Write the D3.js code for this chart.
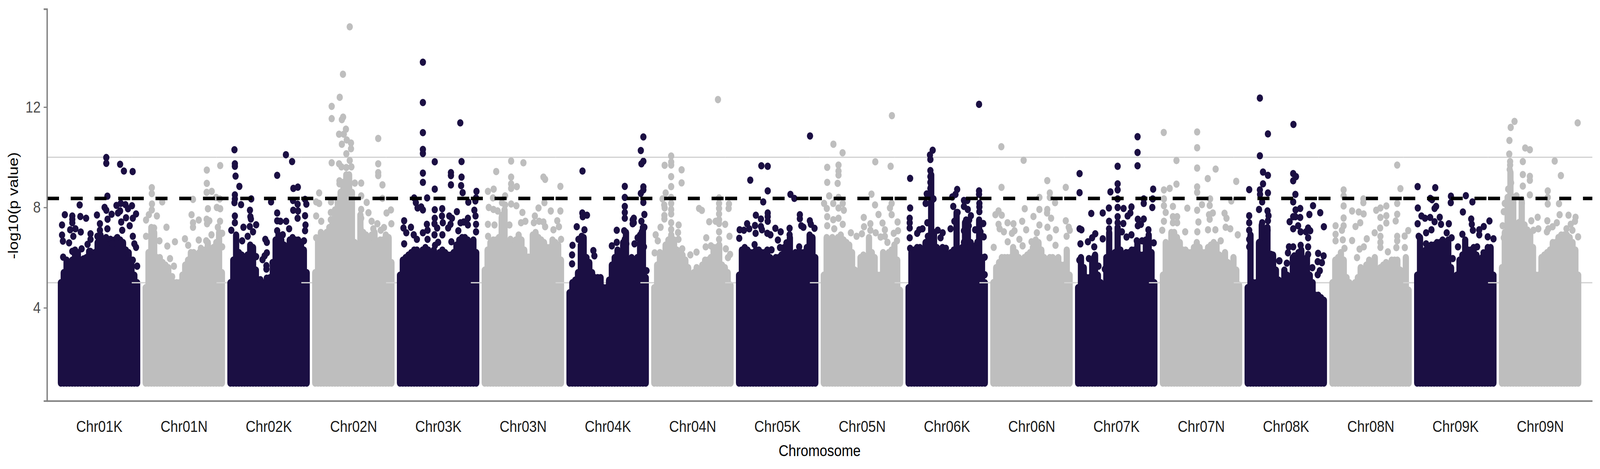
<!DOCTYPE html>
<html>
<head>
<meta charset="utf-8">
<script src="https://cdn.jsdelivr.net/npm/d3@7"></script>
<style>
  html, body { margin: 0; height: 100%; background: #fff; overflow: hidden; }
  text { font-family: "Liberation Sans", Arial, sans-serif; }
</style>
</head>
<body>
<div id="chart"></div>
<script>
const chromosomes = ["Chr01K","Chr01N","Chr02K","Chr02N","Chr03K","Chr03N","Chr04K","Chr04N","Chr05K","Chr05N","Chr06K","Chr06N","Chr07K","Chr07N","Chr08K","Chr08N","Chr09K","Chr09N"];
const yTicks = [4, 8, 12];
const referenceLines = [5, 10];
const significance = 8.36;
const minValue = 1;

// height of the dense mass, read at 28 even steps along each chromosome
const tops01K = [5.0,5.4,5.9,5.8,5.9,6.3,6.2,5.9,5.95,6.0,6.25,6.0,6.2,6.6,6.9,6.5,6.8,6.5,6.2,6.7,6.8,6.7,6.6,6.3,6.2,5.7,5.3,5.0];
const tops01N = [4.8,6.2,7.2,7.0,6.0,6.0,5.8,5.7,5.6,5.1,5.0,5.0,5.0,5.3,5.7,5.9,6.2,6.2,6.0,6.2,5.9,6.3,6.6,6.3,6.4,6.6,7.0,5.4];
const tops02K = [5.0,5.9,6.9,6.2,6.1,6.0,6.1,6.5,6.4,5.5,5.0,4.9,5.0,5.0,5.2,5.7,6.7,6.9,6.7,6.5,6.3,6.7,6.8,6.7,6.7,6.6,6.3,5.4];
const tops02N = [5.4,6.7,7.0,6.9,7.0,7.2,7.3,7.9,8.3,8.6,9.0,9.3,9.3,8.6,6.6,6.5,7.7,7.0,6.9,6.8,6.9,7.0,6.4,6.7,6.7,6.9,6.8,5.8];
const tops03K = [5.3,5.9,6.0,6.1,6.2,6.3,6.3,6.1,6.3,6.4,6.3,6.2,6.3,6.1,6.2,6.3,6.2,6.1,6.1,6.2,6.5,6.7,6.8,6.8,6.7,6.6,6.7,6.2];
const tops03N = [5.5,6.3,6.6,6.7,6.7,6.8,7.6,7.9,6.6,6.5,6.6,6.7,6.9,6.7,6.3,5.9,5.7,6.9,7.0,6.8,6.7,6.6,6.4,6.4,6.7,6.6,6.5,5.9];
const tops04K = [4.6,5.0,5.1,5.4,6.5,6.8,6.0,5.8,5.4,5.2,5.2,5.2,4.8,4.8,5.1,5.7,6.0,6.3,5.9,6.6,7.0,5.9,6.0,5.8,6.0,6.9,7.2,5.2];
const tops04N = [4.8,5.7,6.2,6.1,6.5,6.7,6.9,6.7,6.3,6.1,6.1,5.9,5.6,4.6,5.4,5.6,5.5,5.7,5.9,5.9,6.0,6.4,6.4,6.5,5.7,5.6,5.4,4.9];
const tops05K = [5.3,6.3,6.4,6.3,6.2,6.2,6.3,6.3,6.2,6.2,6.3,6.0,5.9,6.0,6.0,6.1,6.4,6.5,6.8,6.1,6.2,6.2,6.2,6.2,6.4,6.9,6.8,6.0];
const tops05N = [5.3,6.8,6.7,6.8,6.7,6.8,6.9,6.7,6.6,6.5,6.2,5.5,5.3,6.0,6.1,5.9,6.8,6.2,6.0,5.3,5.3,6.2,6.0,6.2,6.3,6.5,5.9,4.7];
const tops06K = [4.8,6.2,6.3,6.4,6.4,6.3,6.6,6.7,9.3,7.0,6.4,6.3,6.4,6.3,6.1,6.2,6.3,7.8,6.2,6.4,7.4,7.3,6.6,6.2,6.5,7.5,6.0,5.0];
const tops06N = [5.0,5.6,5.8,6.0,6.0,6.0,6.0,6.4,6.2,6.0,5.9,6.0,6.1,6.2,6.4,6.7,6.6,6.3,6.0,5.9,6.0,6.0,5.9,6.0,5.7,5.7,6.3,5.3];
const tops07K = [4.8,6.0,5.6,5.2,5.2,5.8,6.1,5.3,5.0,4.9,6.0,7.0,6.1,6.2,7.2,6.3,6.0,6.2,6.2,6.3,6.3,6.6,6.1,6.1,6.7,6.9,6.2,5.0];
const tops07N = [5.3,6.6,6.2,7.0,7.0,6.8,6.6,6.3,6.3,6.2,6.2,6.4,6.6,6.4,6.2,6.2,6.4,6.5,6.6,6.5,6.1,6.0,6.2,5.8,5.6,6.0,5.5,4.9];
const tops08K = [4.8,6.9,5.0,5.0,6.6,7.3,6.3,7.2,5.9,6.1,5.5,5.1,5.0,5.5,5.3,5.0,6.0,5.2,6.2,6.3,5.3,6.0,5.3,5.0,4.5,4.5,4.4,4.3];
const tops08N = [5.0,5.9,6.0,6.2,5.9,5.2,5.0,4.8,5.0,5.2,5.6,5.5,5.7,5.9,5.8,6.0,5.4,5.6,5.7,5.8,5.7,5.9,5.9,5.9,5.5,5.4,6.0,4.7];
const tops09K = [5.3,6.8,6.0,6.3,6.3,6.5,6.5,6.6,6.6,6.7,6.6,6.7,5.6,4.9,5.3,5.9,6.1,6.7,6.3,6.3,6.4,6.1,5.9,6.0,6.0,6.4,6.4,5.3];
const tops09N = [5.6,7.0,8.4,9.4,8.4,7.3,7.4,8.3,7.3,7.1,7.0,6.4,5.3,5.3,6.0,6.1,6.2,6.3,6.6,6.6,6.8,6.9,6.9,6.9,6.8,6.6,6.3,5.3];

// single points above the mass: [position along the genome, -log10(p)], 100 units per chromosome
const dots01K = [[58.4,9.99],[58.4,9.76],[74.7,9.72],[79.2,9.45],[89.5,9.43],[59.7,8.45],[27,8.1],[56.4,8],[58.4,7.89],[70.4,8.08],[75.5,8.16],[81,8.11],[88.7,8.07],[84,7.95],[93.5,7.74],[9.5,7.71],[18.3,7.66],[18.3,7.53],[27.8,7.64],[34.6,7.57],[47.4,7.7],[64.7,7.73],[59.9,7.53],[72.2,7.78],[74.7,7.86],[81.7,7.59],[89.7,7.57],[6.2,7.3],[18.3,7.39],[50.9,7.35],[76,7.42],[86,7.27],[6.2,6.9],[7.2,6.66],[28.3,7.02],[15.8,7.11],[22,7.15],[19.5,6.85],[14.5,6.59],[39.8,6.95],[39.8,6.73],[36.3,6.53],[29.3,6.35],[18.3,6.25],[47.9,6.85],[59.7,7.15],[63.4,6.73],[65.4,6.55],[71,6.79],[89.7,6.85],[91.5,6.55],[93.5,6.41],[7.5,6.02],[39.6,6.25],[83.5,6.2],[89.7,5.9],[94.8,5.66],[50.9,7.09],[77.2,7.09]];
const dots01N = [[112.1,8.79],[112.1,8.55],[124.4,8.22],[112.3,8.14],[112.1,7.9],[118.1,7.66],[108.6,7.71],[114.8,7.18],[129.4,7.21],[105.3,7.5],[105.3,6.85],[121.1,6.67],[139.4,6.63],[151.2,6.75],[130.4,6.46],[138.2,5.66],[133.6,5.96],[136.1,5.24],[160.7,8.32],[159,7.71],[167.5,7.5],[160.7,7.39],[160.7,7.21],[167.5,6.7],[155,6.49],[177,9.49],[177,8.96],[182.8,8.64],[176.8,8.6],[192.8,9.67],[188,8.4],[192.3,8.34],[188.8,8],[192.8,7.95],[178.3,7.95],[176.8,7.53],[180,7.47],[177.3,7.35],[192.6,7.45],[190,7.21],[182.5,6.91],[176.3,6.67],[170,6.37],[195.1,6.97],[195.1,6.43]];
const dots02K = [[209.6,10.3],[210.1,9.74],[210.1,9.64],[210.9,9.25],[215.4,8.84],[210.1,8.5],[210.1,8.34],[209.6,8.19],[217.4,8.11],[229.4,8.34],[210.1,7.66],[210.1,7.39],[227.9,7.89],[228.4,7.63],[229,7.54],[270.3,10.1],[277.6,9.83],[260,9.28],[279.1,8.76],[284.4,8.81],[278.6,8.28],[252.8,8.22],[292.9,8.32],[294.4,8.13],[284.1,8.13],[278.9,7.89],[284.6,7.86],[260,7.78],[260,7.47],[263.8,7.45],[270.6,7.45],[292.9,7.67],[284.1,7.57],[293.4,7.3],[292.9,7.07],[274.1,7.15],[235.2,7.31],[227.7,7.24],[220.2,7.21],[205.9,7.09],[260,7.07],[266.6,6.91],[225.2,6.85],[231.5,7.03],[246,6.73],[247.8,6.61],[218.7,6.67],[247.8,6.19],[245.2,6.07],[242.7,5.92],[247.3,5.68],[247.3,5.54],[235.2,6.04],[254.5,5.8],[240.2,5.12],[247.7,5.18],[291.6,6.67]];
const dots02N = [[345.6,15.2],[337.6,13.31],[333.8,12.39],[324.3,12.03],[324.3,11.54],[337.8,11.6],[336.3,11.5],[341.1,11.12],[333,10.92],[338.6,10.92],[342.1,10.69],[347.1,10.57],[336.3,10.52],[347.1,10.34],[341.6,10.14],[345.6,9.87],[324.3,9.78],[333,9.74],[335.8,9.62],[347.6,9.62],[341.6,9.59],[379.2,10.75],[379.2,9.74],[379.2,9.39],[379.2,9.27],[384.2,8.9],[359.1,8.97],[351.6,8.97],[333.5,9.06],[333.5,8.94],[309.5,8.58],[359.1,8.46],[384.2,8.36],[306,8.22],[309.5,8.16],[323.5,8.22],[365.6,8.2],[306,7.66],[367.7,7.79],[394.2,7.9],[389,7.78],[323.3,7.8],[323.3,7.51],[371.4,7.45],[378.2,7.35],[394.7,7.35],[312,7.45],[386,7.2],[373.4,7.15],[382.2,7.09],[359.1,7.92],[359.1,7.57],[358.4,7.15],[306,6.79],[374.7,6.79],[352.6,6.52]];
const dots03K = [[431.9,13.79],[431.9,12.18],[431.9,10.98],[431.9,10.31],[431.9,10.15],[476,11.37],[477.5,9.83],[445.9,9.82],[465,9.39],[465,9.27],[465,8.9],[431.9,9.37],[431.9,9],[477.5,9.21],[477,8.87],[445.9,8.73],[478.8,8.59],[495.1,8.64],[494.6,8.38],[493.8,8.26],[485.5,8.21],[436.9,8.38],[421.6,8.38],[423.6,8.19],[425.6,7.98],[429.9,8.02],[431.9,7.9],[445.9,7.91],[454.7,7.95],[472,7.83],[445.9,7.57],[454.4,7.66],[463,7.66],[466.2,7.57],[492.6,7.89],[494,7.66],[445.6,7.35],[455.4,7.39],[464.5,7.33],[461.7,7.18],[448.7,7.18],[436.6,7.33],[476.3,7.39],[480,7.42],[485,7.57],[485,7.3],[494.6,7.33],[494.6,7.03],[409.8,7.47],[409,7.18],[417.8,7.21],[412.3,6.99],[421.1,6.91],[424.8,6.73],[437.4,7.09],[431.9,6.99],[445.6,6.91],[454.9,6.91],[473.7,7.07],[409.8,6.55],[437.4,6.73],[465.5,6.63],[449.9,6.61],[446.2,6.49]];
const dots03N = [[536,9.85],[550.5,9.78],[518.4,9.43],[536,9.21],[574.1,9.21],[576.1,9.12],[536,8.94],[542.7,8.83],[536,8.76],[515.4,8.73],[594.1,8.84],[508.6,8.64],[514.6,8.38],[528.9,8.46],[525.2,8.19],[536,8.14],[542.2,8.07],[528.9,8.1],[568.3,7.98],[575.3,8.19],[509.6,8],[515.1,7.92],[520.1,7.86],[582.8,7.86],[594.1,7.86],[549.3,7.8],[564,7.66],[525.2,7.69],[508.6,7.33],[574.1,7.42],[590.4,7.47],[592.4,7.23],[552.8,7.45],[534,7.3],[516.4,7.3],[547.7,7.39],[562.8,7.39],[569,7.45],[576.1,7.23],[585.9,7.11],[508.8,6.85],[594.9,6.73],[535.2,6.73],[556.5,6.02]];
const dots04K = [[620.2,9.45],[670.1,8.84],[670.1,8.4],[620,7.78],[625.5,7.69],[620.5,7.63],[670.1,8.04],[670.1,7.8],[670.1,7.57],[679.4,7.5],[679.4,7.35],[613.4,7.23],[622.5,7.11],[660.6,7.09],[669.4,7.07],[619.2,6.85],[615.4,6.73],[608.4,6.49],[620.5,6.67],[670.1,6.73],[671.9,6.55],[660.6,6.61],[654.8,6.47],[633,6.28],[607.9,6.11],[634.2,6.07],[607.9,5.75],[670.6,6.13],[692,10.81],[689,10.27],[692,9.84],[689.7,9.74],[692,8.82],[692,8.7],[689,8.56],[692,8.2],[693.2,7.72],[680.7,7.57],[680.7,7.39],[689.7,7.45],[693.2,7.21],[690.2,7.03],[685.2,6.79],[692.7,6.43],[681.5,6.55],[695.7,5.48]];
const dots04N = [[780,12.3],[724.8,10.05],[724.8,9.81],[724.8,9.69],[717.1,9.68],[737.1,9.5],[724.8,9.23],[737.1,8.98],[724.8,8.83],[718.3,8.58],[724.8,8.4],[716.6,8.1],[717.1,7.98],[714.6,8.34],[724.8,8.16],[724.8,7.92],[724.8,7.74],[716.8,7.68],[716.8,7.54],[757.7,7.96],[761,7.88],[781.3,8.38],[781.3,8.16],[781.3,7.96],[781.3,7.74],[781.3,7.51],[781.3,7.36],[777.3,7.45],[769.7,7.43],[793,8.14],[792.6,7.96],[788.5,7.33],[793.6,6.85],[712.3,7.21],[733.6,7.3],[732.9,7],[733.4,6.73],[724.8,7.39],[724.8,7.12],[706.5,6.91],[709,6.67],[766.2,6.79],[765.5,6.43],[781.3,7.03],[781.3,6.73],[771.7,6.47],[789.3,6.35],[794.3,6.13],[791.8,6],[705.3,6.19],[754.7,6.22],[747.4,6.11],[737.9,6.35]];
const dots05K = [[888.6,10.85],[831.2,9.66],[838.7,9.64],[818.1,9.09],[838.7,8.66],[865.5,8.52],[870.1,8.36],[833.4,8.22],[838.7,7.78],[838.7,7.63],[838.7,7.45],[824.7,7.69],[830.7,7.54],[876.6,7.71],[876.6,7.55],[888.4,7.47],[889.6,7.33],[893.9,7.17],[814.4,7.35],[823.7,7.28],[830.7,7.24],[831.9,7.11],[805.6,7.11],[810.6,7.09],[816.9,7.15],[847.7,7.17],[864.5,7.17],[878.3,7.27],[880.8,7.21],[854,7.03],[838.2,6.97],[841.9,6.91],[824.4,6.97],[805.1,6.77],[850.7,6.7],[864.5,6.91],[860.8,6.59],[853.2,6.4],[823.2,6.52],[875.8,6.43],[843.2,6.31]];
const dots05N = [[985.2,11.66],[916.2,10.52],[927,10.18],[965.6,9.82],[983.7,9.64],[908.9,9.6],[922.2,9.69],[922.2,9.45],[922.2,9.29],[908.9,9],[921.2,8.96],[961.1,8.53],[911.2,8.46],[905.2,8.16],[922.2,8.4],[916,8.16],[908.4,7.96],[927.2,8.16],[922.2,7.98],[928.5,7.89],[965.3,8.1],[984.9,8.16],[982.9,7.98],[984.9,7.71],[969.4,7.72],[908.9,7.63],[916,7.51],[922.2,7.57],[952,7.6],[991.9,7.42],[974.1,7.38],[908.9,7.27],[927.2,7.33],[952.3,7.23],[959.8,7.35],[976.9,7.11],[936.8,6.99],[943.5,6.85],[949.8,6.95],[966.1,6.99],[992.4,7.07],[987.4,6.97],[971.9,6.82],[976.9,6.85],[991.2,6.67],[979.9,6.61],[917.2,7.15],[959.8,7.09]];
const dots06K = [[1006.7,9.16],[1033.3,10.28],[1030.1,10.09],[1030.6,9.91],[1030.6,9.47],[1030.6,9.23],[1030.6,9],[1030.6,8.76],[1026.3,8.54],[1025,8.16],[1034.3,8.34],[1062.2,8.72],[1060.2,8.52],[1056.4,8.42],[1070.2,8.28],[1057.6,8.04],[1070.2,8.04],[1006.7,7.98],[1006.2,7.57],[1006.2,7.39],[1006.2,7.18],[1062.7,7.8],[1058.9,7.45],[1072.7,7.5],[1070.2,7.07],[1027,7.39],[1021.3,7.15],[1017.5,7.11],[1039.3,7.09],[1045.1,6.99],[1054.4,7.15],[1006.2,6.79],[1015,6.97],[1027.6,6.85],[1042.6,6.79],[1006.7,6.37],[1070.2,6.61],[1048.9,6.37],[1088,12.11],[1088,8.66],[1088,8.52],[1088.4,8.16],[1088.4,8.02],[1088.4,7.83],[1078.4,7.67],[1093,7.36],[1076.4,7.5],[1074.2,8.28],[1074.7,7.92],[1075.9,7.27],[1083.4,7.11],[1089.7,7.03],[1093.5,6.83],[1086,6.61],[1077.2,6.43],[1094.7,6.02],[1094.7,5.32]];
const dots06N = [[1114.3,10.42],[1140.6,9.88],[1168.5,9.07],[1114.5,8.8],[1190.3,8.8],[1171.5,8.58],[1171.5,8.4],[1159.2,8.4],[1177.7,8.19],[1141.9,7.95],[1159.2,7.92],[1168.5,7.92],[1111,7.86],[1107.3,7.71],[1114.8,7.69],[1168.2,7.78],[1173,7.57],[1152.2,7.64],[1138.9,7.45],[1190.3,7.47],[1121.6,7.39],[1128.6,7.35],[1111,7.33],[1159.2,7.3],[1193.8,7.21],[1143.6,7.11],[1112.3,7.15],[1168.7,7.21],[1178.7,7.11],[1195,7.09],[1129.8,7.07],[1126.8,6.97],[1156.2,6.99],[1117.3,7.03],[1171.2,6.79],[1135.6,6.73],[1191.3,6.85],[1121.8,6.63],[1139.4,6.47],[1178.2,6.49],[1105.3,6.41],[1149.9,6.63]];
const dots07K = [[1275,10.82],[1275,10.19],[1275,9.66],[1251.5,9.64],[1206.6,9.35],[1251.5,8.94],[1251.5,8.7],[1243,8.62],[1206.6,8.59],[1293.4,8.73],[1292.9,8.34],[1282.3,8.34],[1282.3,8.16],[1292.4,8],[1251.5,8.34],[1251.5,8],[1241.2,7.98],[1258.5,7.96],[1267.8,8.02],[1220.4,7.76],[1233.9,7.78],[1266.5,7.78],[1263.3,7.66],[1251.5,7.63],[1275.3,7.53],[1282.3,7.54],[1206.6,7.15],[1208.8,7.11],[1258.2,7.36],[1279,7.33],[1275.3,7.27],[1251.5,7.39],[1241.4,7.45],[1241.4,7.15],[1287.8,7.11],[1256.5,7.03],[1267.8,6.91],[1262,6.82],[1225.1,6.95],[1221.4,6.79],[1233.9,6.75],[1216.4,6.63],[1223.9,6.43],[1207.6,6.55],[1294.1,6.59],[1280.3,6.67],[1274.1,6.67],[1217.6,5.96],[1206.3,5.9],[1223.9,6.02],[1228.9,5.66],[1236.4,5.54]];
const dots07N = [[1305.9,10.99],[1345.3,11.01],[1345.3,10.38],[1320.9,9.87],[1345.3,9.57],[1367.1,9.53],[1357.8,9.15],[1320.9,8.93],[1391.4,9.04],[1345.3,8.82],[1345.3,8.6],[1312.9,8.76],[1306.1,8.7],[1306.1,8.34],[1360.6,8.34],[1385.6,8.26],[1306.1,8.07],[1316.7,8.04],[1333.7,7.97],[1351,8.11],[1360.1,8.08],[1308.2,7.8],[1345.3,7.89],[1363.8,7.78],[1359.3,7.71],[1360.1,7.53],[1377.6,7.77],[1379.9,7.57],[1316.7,7.63],[1321.7,7.63],[1306.1,7.45],[1316.7,7.39],[1321.7,7.39],[1378.9,7.21],[1346.8,7.42],[1366.8,7.11],[1358.1,7.11],[1331.2,7.03],[1384.4,7.15],[1393.2,6.91],[1345.5,7.03],[1304.1,7.09],[1320.4,6.79],[1373.1,6.67]];
const dots08K = [[1419.3,12.36],[1428.8,10.93],[1419.3,10.06],[1423,9.41],[1428.8,9.28],[1423,8.94],[1419.3,8.7],[1428.8,8.58],[1406.7,8.71],[1419.5,8.52],[1422,8.22],[1418.3,7.92],[1428.3,7.86],[1429.5,7.67],[1406.7,7.67],[1406.7,7.39],[1422,7.39],[1428.8,7.47],[1428.3,7.09],[1406.7,7.09],[1406.7,6.73],[1419,6.61],[1406.7,6.43],[1432.5,6.13],[1442,5.87],[1458.9,11.31],[1458.6,9.35],[1461.9,9.23],[1458.6,9.06],[1461.2,8.52],[1458.6,8.22],[1466.9,7.96],[1461.4,7.9],[1482,8.07],[1477.7,7.72],[1490.5,7.79],[1458.6,7.63],[1461.2,7.63],[1466.9,7.6],[1454.4,7.43],[1494.8,7.23],[1464.4,7.27],[1458.6,7.15],[1467.4,7.03],[1476.2,7.18],[1478.7,7.07],[1473.7,7.03],[1476.2,6.79],[1453.6,6.43],[1458.6,6.43],[1467.4,6.49],[1476.2,6.43],[1452.4,6.19],[1459.9,6.07],[1476.2,6.13],[1488,6.17],[1494.5,6.07],[1487.5,5.84],[1492.5,5.8],[1481.2,5.6],[1490,5.48],[1442.4,5.87],[1451.1,5.78],[1487.5,5.32]];
const dots08N = [[1581.3,9.69],[1518.1,8.7],[1585.1,8.75],[1518.1,8.46],[1541.4,8.34],[1541.4,8.19],[1581.3,8.16],[1518.1,8.06],[1528.1,7.86],[1535.9,7.82],[1541.7,7.74],[1556.5,7.89],[1561.5,7.98],[1568.5,8.06],[1568.5,7.67],[1561.5,7.6],[1581.3,7.73],[1579.5,7.46],[1568.5,7.38],[1518.1,7.58],[1537.7,7.39],[1532.1,7.24],[1508.6,7.27],[1518.1,7.27],[1516.1,7.09],[1561.2,7.18],[1554.7,6.99],[1594.3,7.08],[1590.1,6.86],[1508.6,6.93],[1581.3,6.85],[1561.5,6.85],[1545.4,6.75],[1508.6,6.67],[1517.1,6.71],[1528.1,6.68],[1581.3,6.67],[1561.5,6.61],[1561.5,6.41],[1541.9,6.43],[1536.9,6.34],[1519.1,6.37],[1570.3,6.23],[1580.3,6.4],[1590.3,6.4],[1533.9,6]];
const dots09K = [[1605.4,8.83],[1626.2,8.79],[1644.7,8.45],[1662.3,8.47],[1644.5,8.19],[1670,8.22],[1622.4,8.31],[1620.4,8.36],[1605.6,7.98],[1627.2,8.04],[1625.4,7.96],[1658.8,7.82],[1609.9,7.66],[1614.1,7.57],[1620.2,7.6],[1631.5,7.61],[1668.6,7.54],[1625.4,7.43],[1633,7.33],[1605.4,7.35],[1642.2,7.35],[1690.1,7.46],[1669.3,7.33],[1683.4,7.24],[1615.4,6.99],[1621.7,7.11],[1670.6,7.09],[1678.1,7.11],[1639.7,6.99],[1658.2,6.93],[1688.1,6.83],[1694.9,6.75],[1606.6,6.85],[1645.5,6.79],[1678.1,6.91],[1615.4,6.55],[1653,6.43],[1675.6,6.43],[1683.1,6.19],[1646.8,5.96]];
const dots09N = [[1719.7,11.43],[1715.2,11.19],[1794.2,11.37],[1713.7,10.67],[1732.3,10.37],[1737.8,10.3],[1713.5,10.13],[1767.1,9.85],[1729.5,9.83],[1714.5,9.83],[1714.5,9.69],[1714,9.51],[1729.5,9.31],[1774.4,9.27],[1737.8,9.24],[1737.8,9.08],[1715.7,8.98],[1729.5,8.85],[1712.2,8.73],[1714.5,8.64],[1758.9,8.66],[1737.8,8.5],[1722,8.46],[1708.2,8.16],[1758.9,8.4],[1758.9,8.14],[1772.2,8.15],[1728.3,8.16],[1707,7.83],[1772.9,7.71],[1783.4,7.69],[1791.7,7.61],[1747,7.61],[1758.4,7.47],[1739.5,7.47],[1791,7.45],[1769.6,7.39],[1786,7.33],[1705.7,7.27],[1764.6,7.23],[1747.8,7.15],[1742,7.09],[1759.6,7.15],[1781,7.15],[1757.9,7.03],[1794.7,6.83],[1788,7.09],[1707,6.79]];

const allTops = [tops01K,tops01N,tops02K,tops02N,tops03K,tops03N,tops04K,tops04N,tops05K,tops05N,tops06K,tops06N,tops07K,tops07N,tops08K,tops08N,tops09K,tops09N];
const allDots = [dots01K,dots01N,dots02K,dots02N,dots03K,dots03N,dots04K,dots04N,dots05K,dots05N,dots06K,dots06N,dots07K,dots07N,dots08K,dots08N,dots09K,dots09N];

const dark = "#1b0f43", grey = "#bebebe", lineGrey = "#d3d3d3", axisGrey = "#7f7f7f";
const fontSize = 41, r = 9.4;

const width = 4800, height = 1200;
const plot = {left: 141, right: 4777, top: 23, bottom: 1025.7};

// the window can come up narrower than 4800, so the drawing stretches to fill it
const svg = d3.select("#chart").append("svg")
    .attr("viewBox", `0 0 ${width} ${height}`)
    .attr("preserveAspectRatio", "none")
    .style("width", "100vw")
    .style("height", "100vh")
    .style("display", "block");

const x = d3.scaleLinear().domain([-11.54, 1811.5]).range([plot.left, plot.right]);
const y = d3.scaleLinear().domain([0.29, 15.91]).range([plot.bottom, plot.top]);
const inBand = d3.scaleLinear().domain([0, 27]).range([4.9, 94.8]);

// the horizontal guides come in one piece per chromosome, so each piece sits
// above the previous chromosome's points and under the next one's
function guidePieces(g, i) {
    const from = x.domain()[0] + i * 100;
    const to = i === chromosomes.length - 1 ? x.domain()[1] : from + 100;
    g.selectAll(null)
        .data(referenceLines)
        .join("line")
        .attr("x1", x(from))
        .attr("x2", x(to))
        .attr("y1", d => y(d))
        .attr("y2", d => y(d))
        .attr("stroke", lineGrey)
        .attr("stroke-width", 3.2);
}

chromosomes.forEach((chr, i) => {
    const colour = i % 2 === 0 ? dark : grey;
    svg.append("g").call(guidePieces, i);

    const g = svg.append("g");
    g.selectAll("line")
        .data(allTops[i])
        .join("line")
        .attr("x1", (d, j) => x(i * 100 + inBand(j)))
        .attr("x2", (d, j) => x(i * 100 + inBand(j)))
        .attr("y1", y(minValue))
        .attr("y2", d => y(d))
        .attr("stroke", colour)
        .attr("stroke-width", 2 * r)
        .attr("stroke-linecap", "round");
    g.selectAll("circle")
        .data(allDots[i])
        .join("circle")
        .attr("cx", d => x(d[0]))
        .attr("cy", d => y(d[1]))
        .attr("r", r)
        .attr("fill", colour);
});

// significance threshold, restarted per chromosome like the guides
svg.append("g").selectAll("line")
    .data(chromosomes)
    .join("line")
    .attr("x1", (d, i) => x(x.domain()[0] + i * 100))
    .attr("x2", (d, i) => i === chromosomes.length - 1 ? x(x.domain()[1]) : x(x.domain()[0] + (i + 1) * 100))
    .attr("y1", y(significance))
    .attr("y2", y(significance))
    .attr("stroke", "#000")
    .attr("stroke-width", 9)
    .attr("stroke-dasharray", "36,35.2");

// axes
const yAxis = svg.append("g")
    .attr("transform", `translate(${plot.left},0)`)
    .call(d3.axisLeft(y).tickValues(yTicks).tickSize(10).tickPadding(9));
yAxis.select(".domain").attr("stroke", axisGrey).attr("stroke-width", 4);
yAxis.selectAll(".tick line").attr("stroke", axisGrey).attr("stroke-width", 3);
yAxis.selectAll("text").attr("fill", "#4d4d4d").style("font-size", fontSize + "px").style("font-family", "Liberation Sans");

const xAxis = svg.append("g")
    .attr("transform", `translate(0,${plot.bottom})`)
    .call(d3.axisBottom(x).tickValues(chromosomes.map((c, i) => i * 100 + 50)).tickFormat((d, i) => chromosomes[i]).tickSize(0).tickPadding(50));
xAxis.select(".domain").attr("stroke", axisGrey).attr("stroke-width", 4);
xAxis.selectAll("text").attr("fill", "#1a1a1a").style("font-size", fontSize + "px").style("font-family", "Liberation Sans");

svg.append("text")
    .attr("x", (plot.left + plot.right) / 2)
    .attr("y", 1167)
    .attr("text-anchor", "middle")
    .attr("fill", "#000")
    .style("font-size", fontSize + "px")
    .text("Chromosome");

svg.append("text")
    .attr("transform", "translate(54,526) rotate(-90)")
    .attr("text-anchor", "middle")
    .attr("fill", "#000")
    .style("font-size", fontSize + "px")
    .text("-log10(p value)");
</script>
</body>
</html>
